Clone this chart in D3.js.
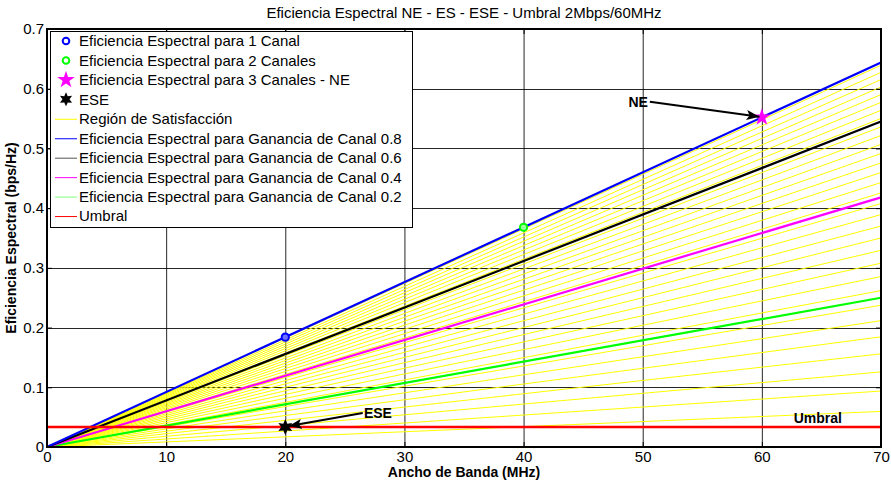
<!DOCTYPE html>
<html lang="es">
<head>
    <meta charset="UTF-8">
    <script src="https://d3js.org/d3.v7.min.js"></script>
    <title>Eficiencia Espectral</title>
    <style>
        body { margin: 0; background: #fff; }
        text { font-family: "Liberation Sans", Arial, sans-serif; fill: #000; }
    </style>
</head>
<body>
    <div id="chart"></div>

    <script type="text/javascript">
        // --- data ---
        const xTicks = [0, 10, 20, 30, 40, 50, 60, 70];
        const xTickLabels = ["0", "10", "20", "30", "40", "50", "60", "70"];
        const yTicks = [0, 0.1, 0.2, 0.3, 0.4, 0.5, 0.6, 0.7];
        const yTickLabels = ["0", "0.1", "0.2", "0.3", "0.4", "0.5", "0.6", "0.7"];

        const bandwidthRange = [0, 70];   // MHz

        // channel gain lines: efficiency reached at 70 MHz
        const gainLevels = [0.8, 0.6, 0.4, 0.2];
        const gainEffAt70 = [0.644, 0.545, 0.418, 0.250];

        // yellow "region de satisfaccion" lines: efficiency at 70 MHz
        const satisfactionAt70 = [
            0.0596, 0.0937, 0.1258, 0.1560, 0.1845, 0.2116, 0.2374, 0.2619,
            0.2854, 0.3078, 0.3294, 0.3501, 0.3700, 0.3892, 0.4077, 0.4255,
            0.4428, 0.4596, 0.4758, 0.4915, 0.5068, 0.5217, 0.5361, 0.5502,
            0.5639, 0.5772, 0.5902, 0.6029, 0.6153, 0.6274, 0.6393
        ];

        const umbral = 0.0333;

        const channelBw = [20, 40, 60];
        const channelEff = [0.184, 0.368, 0.552];
        const eseBw = 20;
        const eseEff = 0.0333;

        const legendLabels = [
            "Eficiencia Espectral para 1 Canal",
            "Eficiencia Espectral para 2 Canales",
            "Eficiencia Espectral para 3 Canales - NE",
            "ESE",
            "Región de Satisfacción",
            "Eficiencia Espectral para Ganancia de Canal 0.8",
            "Eficiencia Espectral para Ganancia de Canal 0.6",
            "Eficiencia Espectral para Ganancia de Canal 0.4",
            "Eficiencia Espectral para Ganancia de Canal 0.2",
            "Umbral"
        ];

        // --- layout ---
        const width = 891;
        const height = 483;
        const margin = { top: 29, right: 10, bottom: 36, left: 47 };

        const gainColors = ["#0000ff", "#000000", "#ff00ff", "#00ff00"];

        const x = d3.scaleLinear()
            .domain([0, 70])
            .range([margin.left, width - margin.right]);

        const y = d3.scaleLinear()
            .domain([0, 0.7])
            .range([height - margin.bottom, margin.top]);

        const svg = d3.select("#chart")
            .append("svg")
            .attr("width", width)
            .attr("height", height);

        svg.append("rect")
            .attr("width", width)
            .attr("height", height)
            .attr("fill", "#fff");

        svg.append("defs").append("marker")
            .attr("id", "arrow")
            .attr("markerUnits", "userSpaceOnUse")
            .attr("markerWidth", 14)
            .attr("markerHeight", 10)
            .attr("refX", 13)
            .attr("refY", 5)
            .attr("orient", "auto")
            .append("path")
            .attr("d", "M0,0 L13,5 L0,10 L3,5 Z")
            .attr("fill", "#000");

        // title
        svg.append("text")
            .attr("x", (margin.left + width - margin.right) / 2)
            .attr("y", 18)
            .attr("text-anchor", "middle")
            .style("font-size", "15px")
            .text("Eficiencia Espectral NE - ES - ESE - Umbral 2Mbps/60MHz");

        // grid
        const grid = svg.append("g")
            .attr("stroke", "#000")
            .attr("stroke-width", 1)
            .attr("stroke-opacity", 0.85);

        grid.selectAll(".vgrid")
            .data(xTicks.slice(1, -1))
            .enter()
            .append("line")
            .attr("x1", d => x(d) + 0.5)
            .attr("x2", d => x(d) + 0.5)
            .attr("y1", y(0))
            .attr("y2", y(0.7));

        grid.selectAll(".hgrid")
            .data(yTicks.slice(1, -1))
            .enter()
            .append("line")
            .attr("x1", x(0))
            .attr("x2", x(70))
            .attr("y1", d => Math.round(y(d)) + 0.5)
            .attr("y2", d => Math.round(y(d)) + 0.5);

        const line = d3.line()
            .x(d => x(d[0]))
            .y(d => y(d[1]));

        // region de satisfaccion
        svg.append("g")
            .selectAll("path")
            .data(satisfactionAt70)
            .enter()
            .append("path")
            .attr("d", v => line([[bandwidthRange[0], 0], [bandwidthRange[1], v]]))
            .attr("fill", "none")
            .attr("stroke", "#ffff00")
            .attr("stroke-width", 1);

        // channel gain lines (drawn low gain first)
        const gainData = gainLevels.map((g, i) => ({ g: g, v: gainEffAt70[i], color: gainColors[i] }));

        svg.append("g")
            .selectAll("path")
            .data(gainData.slice().reverse())
            .enter()
            .append("path")
            .attr("d", d => line([[bandwidthRange[0], 0], [bandwidthRange[1], d.v]]))
            .attr("fill", "none")
            .attr("stroke", d => d.color)
            .attr("stroke-width", 2.2);

        // umbral
        svg.append("path")
            .attr("d", line([[bandwidthRange[0], umbral], [bandwidthRange[1], umbral]]))
            .attr("stroke", "#ff0000")
            .attr("stroke-width", 2.5);

        // markers
        function hexagram(r) {
            const pts = d3.range(12).map(k => {
                const a = k * Math.PI / 6 - Math.PI / 2;
                const rr = k % 2 === 0 ? r : r * 0.5;
                return [rr * Math.cos(a), rr * Math.sin(a)];
            });
            return d3.line()(pts) + "Z";
        }
        const star = d3.symbol().type(d3.symbolStar).size(95)();

        svg.append("circle")
            .attr("cx", x(channelBw[0]))
            .attr("cy", y(channelEff[0]))
            .attr("r", 3.6)
            .attr("fill", "#6f6fff")
            .attr("stroke", "#0000ff")
            .attr("stroke-width", 2);

        svg.append("circle")
            .attr("cx", x(channelBw[1]))
            .attr("cy", y(channelEff[1]))
            .attr("r", 3.6)
            .attr("fill", "#9cff9c")
            .attr("stroke", "#00ff00")
            .attr("stroke-width", 2);

        svg.append("path")
            .attr("d", star)
            .attr("transform", `translate(${x(channelBw[2])},${y(channelEff[2])})`)
            .attr("fill", "#ff00ff");

        svg.append("path")
            .attr("d", hexagram(8))
            .attr("transform", `translate(${x(eseBw)},${y(eseEff)})`)
            .attr("fill", "#000");

        // annotations
        svg.append("line")
            .attr("x1", x(50.6)).attr("y1", y(0.578))
            .attr("x2", x(59.8)).attr("y2", y(0.553))
            .attr("stroke", "#000")
            .attr("stroke-width", 2)
            .attr("marker-end", "url(#arrow)");

        svg.append("text")
            .attr("x", x(50.6) - 2)
            .attr("y", y(0.569))
            .attr("text-anchor", "end")
            .style("font-size", "14px")
            .style("font-weight", "bold")
            .text("NE");

        svg.append("line")
            .attr("x1", x(26.5)).attr("y1", y(0.057))
            .attr("x2", x(20.3)).attr("y2", y(0.035))
            .attr("stroke", "#000")
            .attr("stroke-width", 2)
            .attr("marker-end", "url(#arrow)");

        svg.append("text")
            .attr("x", x(26.6))
            .attr("y", y(0.0486))
            .style("font-size", "14px")
            .style("font-weight", "bold")
            .text("ESE");

        svg.append("text")
            .attr("x", x(64.7))
            .attr("y", y(0.040))
            .attr("text-anchor", "middle")
            .style("font-size", "14px")
            .style("font-weight", "bold")
            .text("Umbral");

        // axes (ticks inside, box on)
        const xAxis = d3.axisBottom(x)
            .tickValues(xTicks)
            .tickFormat((d, i) => xTickLabels[i])
            .tickSizeInner(-5)
            .tickSizeOuter(0)
            .tickPadding(4);

        const yAxis = d3.axisLeft(y)
            .tickValues(yTicks)
            .tickFormat((d, i) => yTickLabels[i])
            .tickSizeInner(-5)
            .tickSizeOuter(0)
            .tickPadding(3);

        const gx = svg.append("g")
            .attr("transform", `translate(0,${y(0)})`)
            .call(xAxis);

        const gy = svg.append("g")
            .attr("transform", `translate(${x(0)},0)`)
            .call(yAxis);

        svg.append("g")
            .attr("transform", `translate(0,${y(0.7)})`)
            .call(d3.axisTop(x).tickValues(xTicks).tickFormat("").tickSizeInner(-5).tickSizeOuter(0));

        svg.append("g")
            .attr("transform", `translate(${x(70)},0)`)
            .call(d3.axisRight(y).tickValues(yTicks).tickFormat("").tickSizeInner(-5).tickSizeOuter(0));

        svg.selectAll(".domain").remove();
        [gx, gy].forEach(g => g.selectAll("text")
            .style("font-size", "15px")
            .style("font-family", "'Liberation Sans', Arial, sans-serif"));

        svg.append("rect")
            .attr("x", x(0))
            .attr("y", y(0.7))
            .attr("width", x(70) - x(0))
            .attr("height", y(0) - y(0.7))
            .attr("fill", "none")
            .attr("stroke", "#000")
            .attr("stroke-width", 2);

        // axis labels
        svg.append("text")
            .attr("x", (margin.left + width - margin.right) / 2)
            .attr("y", 477)
            .attr("text-anchor", "middle")
            .style("font-size", "14px")
            .style("font-weight", "bold")
            .text("Ancho de Banda (MHz)");

        svg.append("text")
            .attr("transform", `translate(16,${(margin.top + height - margin.bottom) / 2}) rotate(-90)`)
            .attr("text-anchor", "middle")
            .style("font-size", "14px")
            .style("font-weight", "bold")
            .text("Eficiencia Espectral (bps/Hz)");

        // legend
        const legend = svg.append("g");
        const legendX = 50;
        const legendY = 31;
        const rowH = 19.45;

        legend.append("rect")
            .attr("x", legendX + 0.5)
            .attr("y", legendY + 0.5)
            .attr("width", 362)
            .attr("height", 196)
            .attr("fill", "#fff")
            .attr("stroke", "#000")
            .attr("stroke-width", 1);

        const legendLineColors = [null, null, null, null, "#ffff00", "#0000ff", "#555555", "#ff00ff", "#7fff7f", "#ff0000"];

        const rows = legend.selectAll(".row")
            .data(legendLabels)
            .enter()
            .append("g")
            .attr("transform", (d, i) => `translate(0,${legendY + 10 + i * rowH})`);

        rows.append("text")
            .attr("x", 79)
            .attr("y", 0)
            .attr("dy", "0.36em")
            .style("font-size", "15px")
            .text(d => d);

        rows.filter((d, i) => legendLineColors[i])
            .append("line")
            .attr("x1", 55)
            .attr("x2", 77)
            .attr("y1", 0.5)
            .attr("y2", 0.5)
            .attr("stroke", (d, i) => legendLineColors[i + 4])
            .attr("stroke-width", 1);

        const mk = 66;
        legend.append("circle")
            .attr("cx", mk).attr("cy", legendY + 10)
            .attr("r", 3.3).attr("fill", "none")
            .attr("stroke", "#0000ff").attr("stroke-width", 2);
        legend.append("circle")
            .attr("cx", mk).attr("cy", legendY + 10 + rowH)
            .attr("r", 3.3).attr("fill", "none")
            .attr("stroke", "#00ff00").attr("stroke-width", 2);
        legend.append("path")
            .attr("d", star)
            .attr("transform", `translate(${mk},${legendY + 10 + 2 * rowH})`)
            .attr("fill", "#ff00ff");
        legend.append("path")
            .attr("d", hexagram(7))
            .attr("transform", `translate(${mk},${legendY + 10 + 3 * rowH})`)
            .attr("fill", "#000");
    </script>
</body>
</html>
